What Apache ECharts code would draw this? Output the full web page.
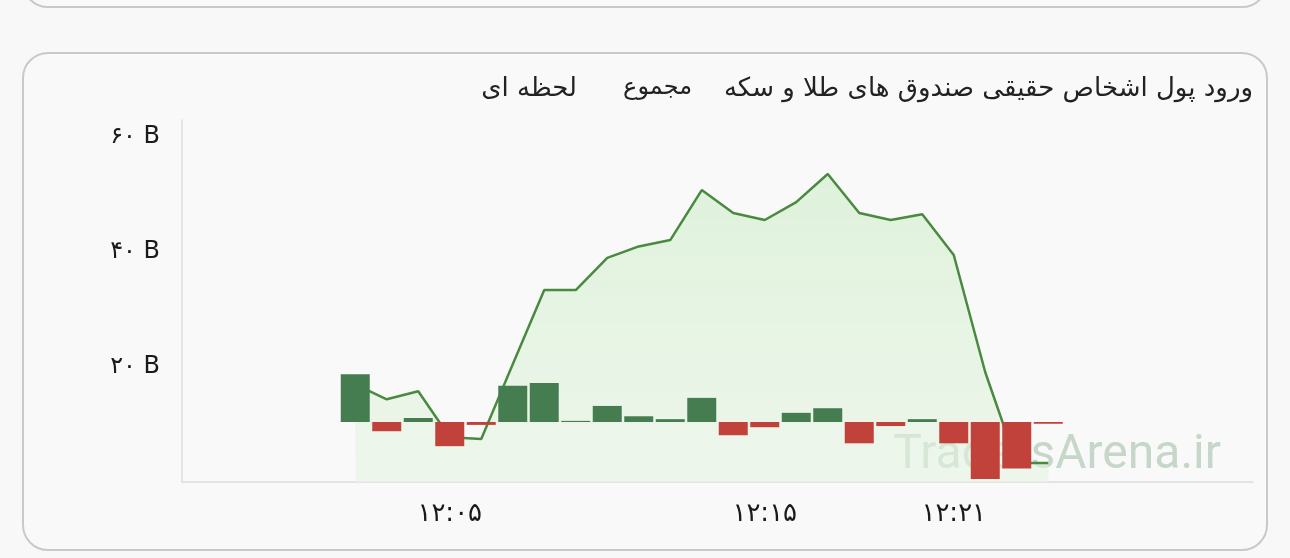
<!DOCTYPE html>
<html>
<head>
<meta charset="utf-8">
<script src="https://cdn.jsdelivr.net/npm/echarts@6/dist/echarts.min.js"></script>
<style>
  html, body { margin: 0; padding: 0; background: #f8f8f8; }
  .card {
    position: absolute;
    box-sizing: border-box;
    border: 2.5px solid #c9c9c9;
    border-radius: 26px;
    background: #f9f9f9;
  }
  #chart { position: absolute; left: 0; top: 0; width: 1290px; height: 558px; }
</style>
</head>
<body>
<div class="card" style="left:22px; top:-60px; width:1246px; height:68px;"></div>
<div class="card" style="left:22px; top:52px; width:1246px; height:499px;"></div>
<div id="chart"></div>
<script>
// one category per minute
var categories = [
  '11:57', '11:58', '11:59', '12:00', '12:01', '12:02', '12:03', '12:04', '12:05', '12:06',
  '12:07', '12:08', '12:09', '12:10', '12:11', '12:12', '12:13', '12:14', '12:15', '12:16',
  '12:17', '12:18', '12:19', '12:20', '12:21', '12:22', '12:23', '12:24', '12:25', '12:26',
  '12:27', '12:28', '12:29', '12:30'
];
var shownTimes = ['12:05', '12:15', '12:21'];

// per-minute net inflow (B)
var flow = [
  null, null, null, null, null,
  8.3, -1.6, 0.7, -4.2, -0.5, 6.3, 6.8, 0.2, 2.8, 1.0,
  0.5, 4.2, -2.3, -0.9, 1.6, 2.4, -3.7, -0.7, 0.5, -3.7,
  -9.9, -8.1, -0.3,
  null, null, null, null, null, null
];

// cumulative total (B)
var total = [
  null, null, null, null, null,
  17.0, 14.4, 15.8, 7.8, 7.5, 20.5, 33.4, 33.4, 39.0, 41.0,
  42.1, 50.8, 46.8, 45.6, 48.7, 53.6, 46.8, 45.6, 46.6, 39.5,
  19.1, 3.3, 3.3,
  null, null, null, null, null, null
];

var yTicks = [0, 20, 40, 60];

var faDigits = '۰۱۲۳۴۵۶۷۸۹';
function toFa(s) {
  return String(s).replace(/[0-9]/g, function (d) { return faDigits[+d]; });
}

var chart = echarts.init(document.getElementById('chart'), null, { renderer: 'canvas' });

var txtFont = "'DejaVu Sans', Roboto, sans-serif";
var titleStyle = { fontFamily: txtFont, fontSize: 26, fontWeight: 'normal', color: '#222' };

var option = {
  backgroundColor: 'transparent',
  animation: false,
  title: [{
    text: 'ورود پول اشخاص حقیقی صندوق های طلا و سکه',
    right: 37, top: 76, padding: 0,
    textStyle: titleStyle
  }, {
    text: 'مجموع',
    right: 598, top: 76, padding: 0,
    textStyle: Object.assign({}, titleStyle, { fontSize: 24 })
  }, {
    text: 'لحظه ای',
    right: 713, top: 76, padding: 0,
    textStyle: titleStyle
  }],
  graphic: [{
    type: 'text',
    z: 1,
    style: {
      text: 'TradersArena.ir',
      x: 1221, y: 456,
      align: 'right',
      verticalAlign: 'middle',
      font: '48px Roboto, sans-serif',
      fill: '#c6d6c8'
    }
  }],
  grid: { left: 182, right: 37, top: 120, bottom: 76 },
  xAxis: {
    type: 'category',
    data: categories,
    boundaryGap: true,
    axisLine: { lineStyle: { color: '#dcdcdc', width: 1.5 } },
    axisTick: { show: false },
    axisLabel: {
      interval: function (i, v) { return shownTimes.indexOf(v) >= 0; },
      formatter: function (v) { return toFa(v); },
      margin: 19,
      fontSize: 26,
      fontFamily: txtFont,
      color: '#1a1a1a'
    },
    splitLine: { show: false }
  },
  yAxis: [{
    type: 'value',
    min: 0,
    max: 63,
    interval: 20,
    axisLine: { show: true, lineStyle: { color: '#dcdcdc', width: 1.5 } },
    axisTick: { show: false },
    splitLine: { show: false },
    axisLabel: {
      showMinLabel: false,
      showMaxLabel: false,
      margin: 22,
      fontSize: 24,
      fontFamily: txtFont,
      color: '#1a1a1a',
      formatter: function (v) {
        return yTicks.indexOf(v) > 0 ? toFa(v) + ' B' : '';
      }
    }
  }, {
    type: 'value',
    show: false,
    min: -10.43,
    max: 52.52,
    splitLine: { show: false }
  }],
  series: [{
    name: 'مجموع',
    type: 'line',
    data: total,
    z: 2,
    showSymbol: false,
    symbol: 'none',
    lineStyle: { color: '#4a8a40', width: 2.5 },
    areaStyle: {
      color: new echarts.graphic.LinearGradient(0, 0, 0, 1, [
        { offset: 0, color: 'rgba(203,236,197,0.85)' },
        { offset: 1, color: 'rgba(230,245,227,0.8)' }
      ])
    }
  }, {
    name: 'لحظه ای',
    type: 'bar',
    yAxisIndex: 1,
    data: flow,
    z: 3,
    barWidth: 29,
    itemStyle: {
      color: function (p) { return p.value >= 0 ? '#467d50' : '#c1413b'; }
    }
  }]
};

chart.setOption(option);
</script>
</body>
</html>
